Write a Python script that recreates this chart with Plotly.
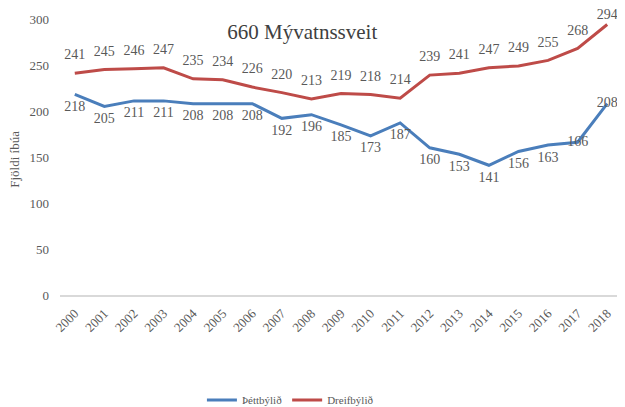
import plotly.graph_objects as go

years = [str(y) for y in range(2000, 2019)]
thettbyli = [218, 205, 211, 211, 208, 208, 208, 192, 196, 185, 173, 187, 160, 153, 141, 156, 163, 166, 208]
dreifbyli = [241, 245, 246, 247, 235, 234, 226, 220, 213, 219, 218, 214, 239, 241, 247, 249, 255, 268, 294]

FONT = "Liberation Serif"
GREY = "#595959"

blue_pos = ["bottom center"] * (len(thettbyli) - 2) + ["middle center", "middle center"]
red_sizes = [15] * (len(dreifbyli) - 1) + [2]

fig = go.Figure()
fig.add_trace(go.Scatter(
    x=years, y=thettbyli, name="Þéttbýlið", mode="lines+markers+text",
    line=dict(color="#4A7EBB", width=3),
    marker=dict(size=8, color="rgba(0,0,0,0)", line=dict(width=0)),
    text=[str(v) for v in thettbyli], textposition=blue_pos,
    textfont=dict(family=FONT, size=14, color=GREY), cliponaxis=False,
))
fig.add_trace(go.Scatter(
    x=years, y=dreifbyli, name="Dreifbýlið", mode="lines+markers+text",
    line=dict(color="#BE4B48", width=3),
    marker=dict(size=red_sizes, color="rgba(0,0,0,0)", line=dict(width=0)),
    text=[str(v) for v in dreifbyli], textposition="top center",
    textfont=dict(family=FONT, size=14, color=GREY), cliponaxis=False,
))

fig.update_layout(
    width=617, height=399,
    margin=dict(l=52, r=3, t=11, b=112, autoexpand=False),
    paper_bgcolor="white", plot_bgcolor="white",
    font=dict(family=FONT, size=13, color=GREY),
    title=dict(text="660 Mývatnssveit", x=0.477, xanchor="center", y=0.94, yanchor="middle",
               font=dict(family=FONT, size=21, color="#404040")),
    showlegend=True,
    legend=dict(orientation="h", x=0.41, xanchor="center", y=-0.38, yanchor="middle",
                itemwidth=30, font=dict(family=FONT, size=11, color=GREY)),
    xaxis=dict(type="category", range=[-0.5, len(years) - 0.5], tickangle=-45,
               showgrid=False, showline=True,
               linecolor="#D9D9D9", linewidth=1.5, ticks="", automargin=False,
               ticklabelstandoff=4,
               tickfont=dict(family=FONT, size=13, color=GREY)),
    yaxis=dict(range=[0, 300], dtick=50, showgrid=False, zeroline=False, showline=False,
               ticks="", automargin=False, ticklabelstandoff=10,
               tickfont=dict(family=FONT, size=13, color=GREY)),
    annotations=[dict(text="Fjöldi íbúa", xref="paper", yref="paper", x=-0.08, y=0.49,
                      textangle=-90, showarrow=False, xanchor="center", yanchor="middle",
                      font=dict(family=FONT, size=13, color=GREY))],
)

fig.write_html("out.html")
